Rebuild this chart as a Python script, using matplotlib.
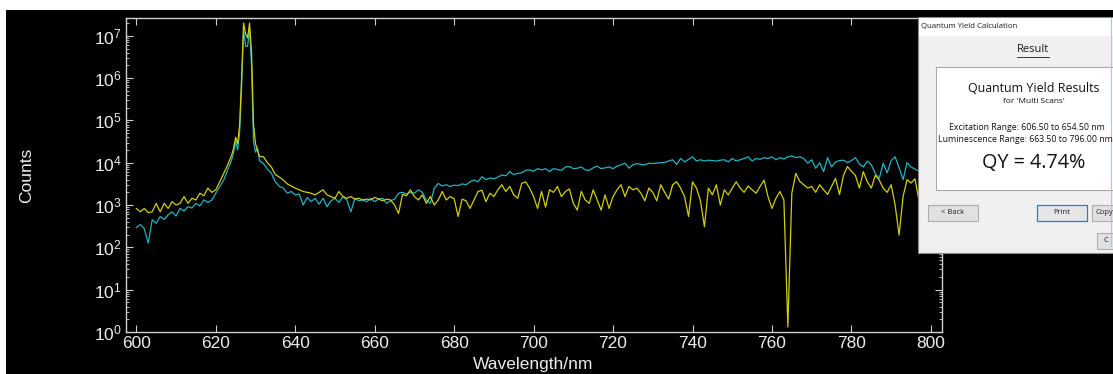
import numpy as np
import matplotlib
matplotlib.use("Agg")
import matplotlib.pyplot as plt
from matplotlib.patches import Rectangle
from matplotlib.lines import Line2D
from matplotlib.ticker import LogLocator, FixedLocator, NullFormatter

W, H = 1113, 374

# ---------------- data ----------------
wl_start = list(range(600, 625))
wl_peak = [624.5, 625.0, 625.5, 626.0, 626.5, 627.0, 627.5,
           628.0, 628.5, 629.0, 629.5, 630.0, 630.5, 631.0]
wl_tail = list(range(632, 798))
wavelength = np.array(wl_start + wl_peak + wl_tail, dtype=float)

# log10(counts), yellow trace
yellow_log10 = [
    2.92, 2.84, 2.92, 2.82, 2.84, 3.04, 2.84, 3.04, 2.92, 3.08,
    3.00, 3.04, 3.20, 3.04, 3.16, 3.12, 3.28, 3.22, 3.40, 3.30,
    3.36, 3.55, 3.75, 3.95, 4.18,
    4.35, 4.60, 4.45, 4.90, 6.00, 7.30, 7.05, 6.95, 7.30, 6.60, 4.90, 4.45, 4.30, 4.15,
    4.14, 4.00, 3.90, 3.72, 3.66, 3.59, 3.50, 3.45, 3.40, 3.36,
    3.32, 3.30, 3.28, 3.24, 3.30, 3.36, 3.24, 3.20, 3.16, 3.32,
    3.20, 3.16, 3.20, 3.14, 3.16, 3.12, 3.14, 3.12, 3.18, 3.14,
    3.10, 3.14, 3.12, 3.00, 2.80, 3.25, 3.22, 3.36, 3.20, 3.12,
    3.24, 3.04, 3.20, 3.00, 3.12, 3.32, 3.12, 3.20, 3.15, 2.73,
    3.14, 3.10, 2.92, 3.12, 3.32, 3.35, 3.08, 3.28, 3.20, 3.36,
    3.48, 3.32, 3.44, 3.24, 3.16, 3.51, 3.55, 3.40, 3.20, 2.92,
    3.32, 2.95, 3.36, 3.30, 3.44, 3.20, 3.32, 3.38, 3.04, 2.88,
    3.32, 3.12, 3.04, 3.36, 3.12, 2.88, 3.24, 2.92, 3.20, 3.36,
    3.48, 3.20, 3.44, 3.36, 3.40, 3.28, 3.10, 3.40, 3.30, 3.10,
    3.48, 3.30, 3.14, 3.48, 3.55, 3.40, 3.20, 2.73, 3.55, 3.40,
    3.10, 2.49, 3.40, 3.24, 3.48, 3.00, 3.36, 3.24, 3.40, 3.55,
    3.40, 3.30, 3.45, 3.36, 3.28, 3.44, 3.59, 3.20, 2.92, 3.16,
    3.32, 3.12, 0.12, 3.28, 3.75, 3.56, 3.48, 3.40, 3.44, 3.30,
    3.48, 3.36, 3.25, 3.44, 3.63, 3.25, 3.70, 3.91, 3.80, 3.70,
    3.40, 3.79, 3.55, 3.40, 3.70, 3.59, 3.40, 3.30, 3.48, 3.00,
    2.29, 3.20, 3.60, 3.52, 3.62, 3.10,
]

# log10(counts), cyan trace
cyan_log10 = [
    2.47, 2.54, 2.44, 2.10, 2.65, 2.57, 2.73, 2.66, 2.77, 2.84,
    2.74, 2.92, 2.86, 2.96, 2.93, 3.04, 2.98, 3.12, 3.06, 3.12,
    3.28, 3.44, 3.59, 3.83, 4.07,
    4.25, 4.50, 4.30, 4.70, 5.80, 7.15, 6.75, 6.75, 7.15, 6.30, 4.50, 4.25, 4.35, 4.05,
    3.98, 3.85, 3.75, 3.55, 3.44, 3.40, 3.28, 3.32, 3.24, 3.26,
    3.00, 3.18, 3.08, 3.16, 3.02, 3.16, 2.96, 3.10, 3.16, 3.06,
    3.20, 3.12, 2.84, 3.16, 3.10, 3.12, 3.08, 3.16, 3.08, 3.14,
    3.16, 3.04, 3.10, 3.14, 3.28, 3.30, 3.26, 3.30, 3.28, 3.36,
    3.30, 3.12, 3.04, 3.40, 3.51, 3.45, 3.48, 3.44, 3.47, 3.46,
    3.50, 3.48, 3.55, 3.59, 3.55, 3.67, 3.60, 3.64, 3.62, 3.66,
    3.71, 3.69, 3.79, 3.72, 3.75, 3.76, 3.82, 3.83, 3.80, 3.86,
    3.83, 3.86, 3.79, 3.86, 3.84, 3.82, 3.90, 3.91, 3.86, 3.87,
    3.90, 3.83, 3.82, 3.88, 3.92, 3.86, 3.88, 3.90, 3.86, 3.92,
    3.95, 3.99, 3.87, 3.95, 3.98, 3.96, 3.95, 3.99, 3.98, 3.99,
    4.00, 4.01, 4.04, 4.07, 3.96, 4.10, 4.02, 4.08, 4.14, 4.04,
    4.07, 4.04, 4.06, 4.05, 4.04, 4.06, 4.07, 4.02, 4.10, 4.04,
    4.07, 4.10, 4.14, 4.04, 4.10, 4.08, 4.12, 4.10, 4.14, 4.07,
    4.12, 4.09, 4.14, 4.16, 4.12, 4.14, 4.10, 3.99, 4.07, 3.87,
    4.00, 3.79, 4.12, 3.90, 4.02, 4.05, 4.06, 4.00, 4.05, 4.12,
    3.97, 3.90, 4.04, 3.95, 3.75, 3.63, 3.99, 3.76, 4.05, 4.14,
    3.88, 3.60, 4.00, 3.90, 3.85, 3.80,
]

x_ticks = [600, 620, 640, 660, 680, 700, 720, 740, 760, 780, 800]

yellow_counts = 10 ** np.array(yellow_log10)
cyan_counts = 10 ** np.array(cyan_log10)

# ---------------- figure ----------------
plt.rcParams['font.family'] = ['Liberation Sans', 'DejaVu Sans']
plt.rcParams['mathtext.default'] = 'regular'

fig = plt.figure(figsize=(W / 100, H / 100), dpi=100, facecolor='white')


def fx(px):
    return px / W


def fy(py):
    return 1 - py / H


def rect(x0, y0, x1, y1, **kw):
    r = Rectangle((fx(x0), fy(y1)), (x1 - x0) / W, (y1 - y0) / H,
                  transform=fig.transFigure, **kw)
    fig.patches.append(r)
    return r


# black screen area
rect(6, 10, W + 5, H + 5, facecolor='black', edgecolor='none', zorder=-10)

ax = fig.add_axes([fx(126), fy(332), (942 - 126) / W, (332 - 18) / H])
ax.set_facecolor('black')

ax.plot(wavelength, cyan_counts, color='#1eb4c3', lw=0.9)
ax.plot(wavelength, yellow_counts, color='#d2ce08', lw=0.9)

ax.set_yscale('log')
ax.set_ylim(1, 10 ** 7.42)
ax.set_xlim(597.4, 802.8)
ax.xaxis.set_major_locator(FixedLocator(x_ticks))
ax.yaxis.set_major_locator(LogLocator(base=10, numticks=10))
ax.yaxis.set_minor_locator(LogLocator(base=10, subs=np.arange(2, 10), numticks=20))
ax.yaxis.set_minor_formatter(NullFormatter())

for s in ax.spines.values():
    s.set_color('#cfcfcf')
    s.set_linewidth(1.0)
ax.tick_params(which='both', direction='in', colors='#cfcfcf',
               top=True, right=True, labelcolor='#ececec', labelsize=12.5)
ax.tick_params(which='major', length=5, width=0.8, pad=3)
ax.tick_params(which='minor', length=2.5, width=0.6)

fig.text(fx(533), fy(364), 'Wavelength/nm', color='#ececec', fontsize=12.5,
         ha='center', va='center')
fig.text(fx(27), fy(175), 'Counts', color='#ececec', fontsize=12.5,
         ha='center', va='center', rotation=90)

# ---------------- dialog overlay ----------------
dlg_font = ['Open Sans', 'DejaVu Sans']
rect(918, 17, W + 5, 253, facecolor='#f0f0f0', edgecolor='#8a8a8a', lw=0.8, zorder=5)
rect(918.5, 17.5, W + 5, 36, facecolor='white', edgecolor='none', zorder=5.1)
fig.text(fx(921), fy(26.5), 'Quantum Yield Calculation', fontsize=5.6,
         family=dlg_font, color='#1a1a1a', ha='left', va='center', zorder=6)
fig.text(fx(1033), fy(50), 'Result', fontsize=8.0, family=dlg_font,
         color='#1a1a1a', ha='center', va='center', zorder=6)
fig.lines.append(Line2D([fx(1017), fx(1049)], [fy(56.5), fy(56.5)],
                        transform=fig.transFigure, color='#1a1a1a', lw=0.6, zorder=6))

rect(936, 66.5, W + 5, 190, facecolor='white', edgecolor='#a8a8a8', lw=0.8, zorder=5.2)
fig.text(fx(1034), fy(88), 'Quantum Yield Results', fontsize=8.9, family=dlg_font,
         color='#111111', ha='center', va='center', zorder=6)
fig.text(fx(1034), fy(101.5), "for 'Multi Scans'", fontsize=6.0, family=dlg_font,
         color='#111111', ha='center', va='center', zorder=6)
fig.text(fx(949), fy(128), 'Excitation Range: 606.50 to 654.50 nm', fontsize=6.35,
         family=dlg_font, color='#111111', ha='left', va='center', zorder=6)
fig.text(fx(937.5), fy(140), 'Luminescence Range: 663.50 to 796.00 nm', fontsize=6.35,
         family=dlg_font, color='#111111', ha='left', va='center', zorder=6)
fig.text(fx(1034), fy(163), 'QY = 4.74%', fontsize=14.2, family=dlg_font,
         color='#111111', ha='center', va='center', zorder=6)

# buttons
rect(928, 205, 978, 221, facecolor='#e1e1e1', edgecolor='#adadad', lw=0.8, zorder=5.2)
fig.text(fx(953), fy(213), '< Back', fontsize=5.5, family=dlg_font,
         color='#222222', ha='center', va='center', zorder=6)
rect(1037, 205, 1087, 221, facecolor='#e5e5e5', edgecolor='#2a7fd0', lw=0.9, zorder=5.2)
fig.text(fx(1062), fy(213), 'Print', fontsize=5.5, family=dlg_font,
         color='#222222', ha='center', va='center', zorder=6)
rect(1092, 205, W + 5, 221, facecolor='#e1e1e1', edgecolor='#adadad', lw=0.8, zorder=5.2)
fig.text(fx(1096), fy(213), 'Copy', fontsize=5.5, family=dlg_font,
         color='#222222', ha='left', va='center', zorder=6)
rect(1097, 233, W + 5, 249, facecolor='#e1e1e1', edgecolor='#adadad', lw=0.8, zorder=5.2)
fig.text(fx(1104), fy(241), 'C', fontsize=5.5, family=dlg_font,
         color='#222222', ha='left', va='center', zorder=6)
fig.lines.append(Line2D([fx(1110.5), fx(1110.5)], [fy(18), fy(246)],
                        transform=fig.transFigure, color='#a9c8e6', lw=0.8, zorder=5.3))

fig.savefig('out.png', dpi=100, facecolor='white')
